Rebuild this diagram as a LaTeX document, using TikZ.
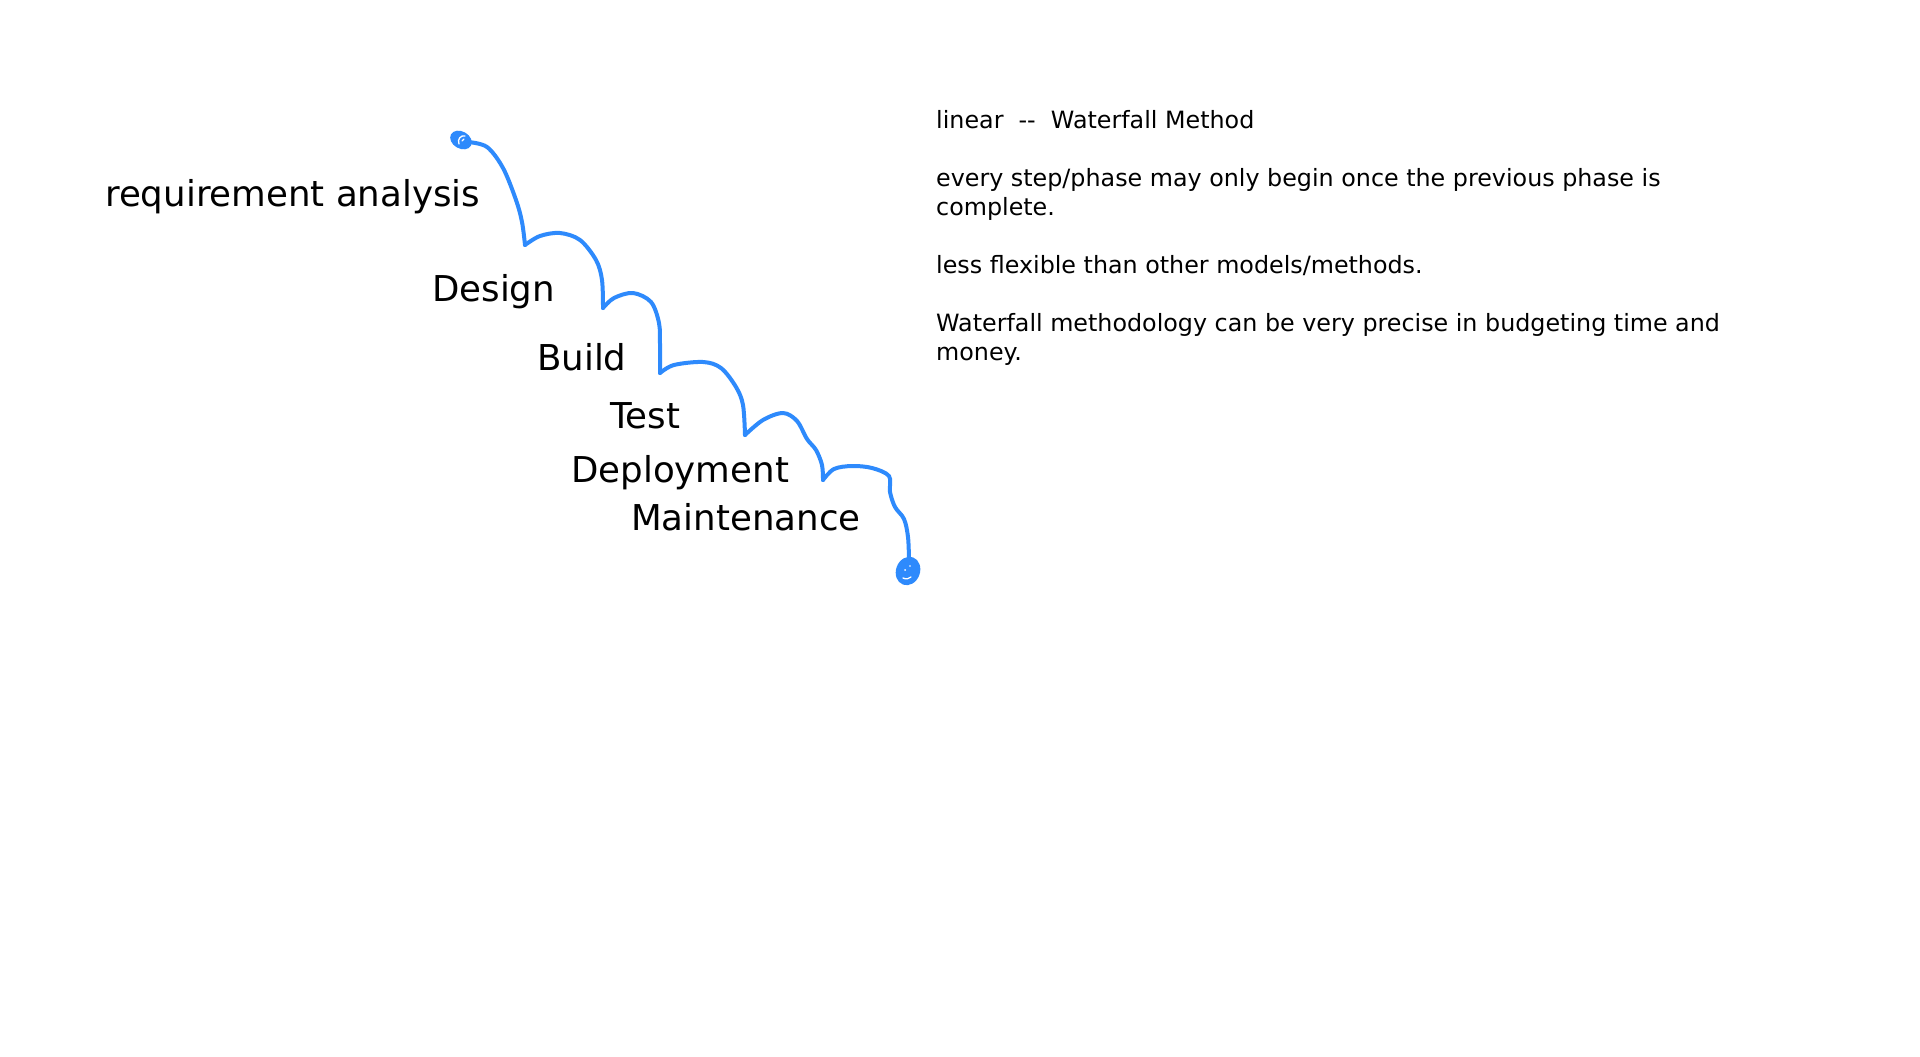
\documentclass[tikz,border=0pt]{standalone}
\usepackage{fontspec}
\usetikzlibrary{calc}
\setmainfont{DejaVu Sans}
\definecolor{inkblue}{RGB}{46,138,252}
\begin{document}
\begin{tikzpicture}[x=1pt,y=-1pt,
  phase/.style={anchor=base west,inner sep=0pt,font=\fontsize{35.6}{42}\selectfont},
  note/.style={anchor=base west,inner sep=0pt,font=\fontsize{23.8}{29}\selectfont},
  ink/.style={draw=inkblue,line width=4pt,line cap=round,line join=round},
  seg/.style={ink,smooth,tension=0.55},
  hole/.style={draw=white,line width=1.3pt,line cap=round}]
\useasboundingbox[fill=white] (0,0) rectangle (1920,1057);

% phase labels
\node[phase] (req) at (105,206) {requirement analysis};
\node[phase] (des) at (432,301) {Design};
\node[phase] (bld) at (537,370) {Build};
\node[phase] (tst) at (610,428) {Test};
\node[phase] (dep) at (571,482) {Deployment};
\node[phase] (mnt) at (631,530) {Maintenance};

% notes
\node[note] (n1) at (936,128) {linear\ \ -{}-\ \ Waterfall Method};
\node[note] (n2) at (936,186) {every step/phase may only begin once the previous phase is};
\node[note] (n3) at (936,215) {complete.};
\node[note] (n4) at (936,273) {less flexible than other models/methods.};
\node[note] (n5) at (936,331) {Waterfall methodology can be very precise in budgeting time and};
\node[note] (n6) at (936,360) {money.};

% start and end of the cascade
\coordinate (s) at (461,140);
\coordinate (e) at (908,571);

% start blob
\fill[inkblue,rotate around={-30:(s)}] (s) ellipse [x radius=11.5,y radius=8.5];
\draw[hole] ($(s)+(-2,4)$) .. controls ($(s)+(-4,-1)$) and ($(s)+(0,-5)$) .. ($(s)+(4,-4)$);
\draw[hole] ($(s)+(1,1)$) -- ($(s)+(3,-1)$);
% end blob
\fill[inkblue,rotate around={70:(e)}] (e) ellipse [x radius=14.5,y radius=12];
\draw[hole] ($(e)+(-5,7)$) .. controls ($(e)+(-2,8.5)$) and ($(e)+(1,8)$) .. ($(e)+(3,6)$);
\fill[white] ($(e)+(-3,-1)$) circle (1);
\fill[white] ($(e)+(2,-5)$) circle (0.9);

% cascade
\draw[seg] plot coordinates {(468,142) (487,147) (503,168) (516,200) (522,222) (525,245)};
\draw[seg] plot coordinates {(525,245) (540,236) (560,233) (580,240) (596,260) (602,280) (603,308)};
\draw[seg] plot coordinates {(603,308) (614,298) (633,293) (651,302) (659,323) (660,345) (660,373)};
\draw[seg] plot coordinates {(660,373) (674,365) (703,362) (721,368) (736,387) (743,405) (745,435)};
\draw[seg] plot coordinates {(745,435) (763,420) (783,413) (797,421) (807,439) (816,450) (822,465) (823,480)};
\draw[seg] plot coordinates {(823,480) (834,469) (852,466) (872,468) (889,476) (890,492) (895,507) (904,519) (908,537) (909,560)};
\end{tikzpicture}
\end{document}
